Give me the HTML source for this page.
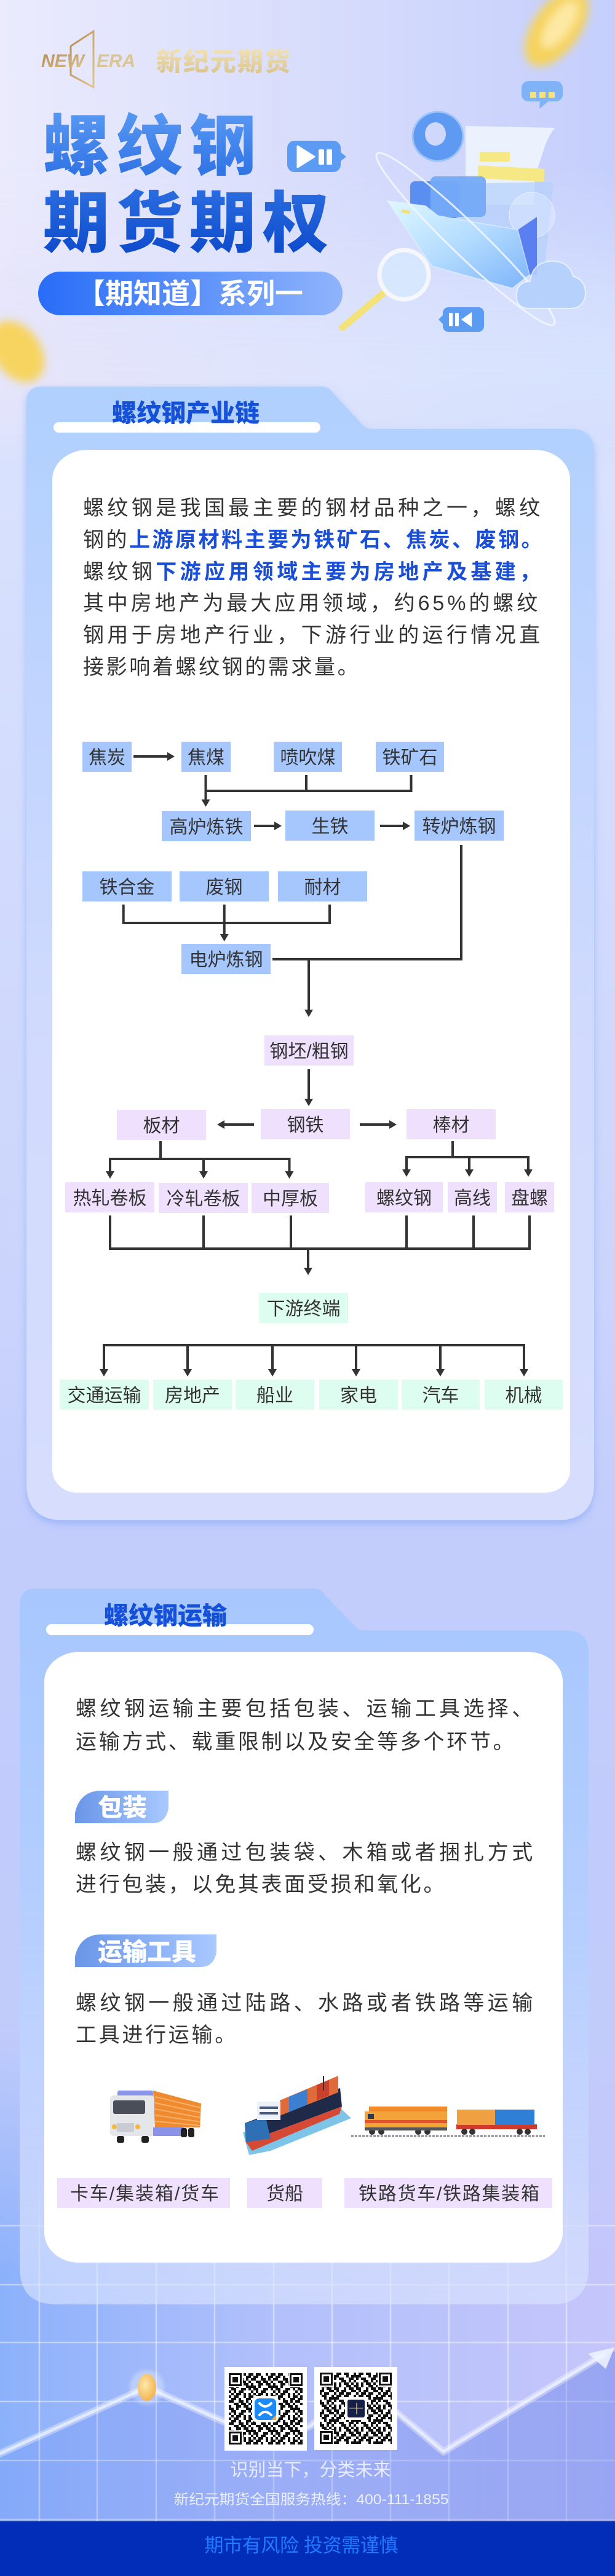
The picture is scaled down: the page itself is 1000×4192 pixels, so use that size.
<!DOCTYPE html>
<html lang="zh"><head><meta charset="utf-8"><title>螺纹钢期货期权</title>
<style>
*{margin:0;padding:0;box-sizing:border-box}
html,body{width:1000px;height:4192px;overflow:hidden}
body{position:relative;font-family:"Liberation Sans","Noto Sans CJK SC",sans-serif;
background:linear-gradient(180deg,#e0e4fc 0px,#d9e2fd 700px,#d3dcfd 1300px,#ccd6fc 2000px,#c3cdfc 2500px,#c2ccfb 3400px);}
.hbg{position:absolute;left:0;top:0;width:1000px;height:760px;background:linear-gradient(90deg,#ebebfd 0%,#d8ddfc 50%,#c5cffc 100%);
-webkit-mask-image:linear-gradient(180deg,#000 0%,#000 50%,transparent 100%);mask-image:linear-gradient(180deg,#000 0%,#000 50%,transparent 100%)}
.hbg2{position:absolute;left:0;top:0;width:1000px;height:760px;background:linear-gradient(90deg,#e6e4fa,#d6e3fe);
-webkit-mask-image:linear-gradient(180deg,transparent 35%,#000 80%,transparent 100%);mask-image:linear-gradient(180deg,transparent 35%,#000 80%,transparent 100%)}
svg.main{position:absolute;left:0;top:0}
.t{position:absolute;white-space:nowrap}
.p{position:absolute;font-family:"Liberation Sans","Noto Sans CJK SC",sans-serif;font-size:34px;line-height:51.8px;color:#333}
.p div{white-space:nowrap}
.p b{color:#1a4ed6;font-weight:700}
.sec{font-family:"Liberation Sans","Noto Sans CJK SC",sans-serif;font-weight:900;font-size:40px;line-height:40px;color:#1450d8}
.big{left:70px;top:177px;font-family:"Liberation Sans","Noto Sans CJK SC",sans-serif;font-weight:900;font-size:108px;line-height:124.5px;letter-spacing:11px;background:linear-gradient(180deg,#5a9af4 0%,#3376e6 40%,#0a47c9 100%);-webkit-background-clip:text;background-clip:text;color:transparent}
</style></head>
<body>
<div class="hbg"></div>
<div class="hbg2"></div>

<svg class="main" width="1000" height="4192" viewBox="0 0 1000 4192" xmlns="http://www.w3.org/2000/svg">
<defs>
<linearGradient id="g1" gradientUnits="userSpaceOnUse" x1="0" y1="629" x2="0" y2="2474">
<stop offset="0" stop-color="#b0d0fe"/><stop offset="0.3" stop-color="#c2d5fe"/><stop offset="0.6" stop-color="#d2dbfd"/><stop offset="1" stop-color="#d6ddfd"/></linearGradient>
<linearGradient id="g2" gradientUnits="userSpaceOnUse" x1="0" y1="2585" x2="0" y2="3750">
<stop offset="0" stop-color="#a7c7fe"/><stop offset="0.45" stop-color="#b4cefe"/><stop offset="0.8" stop-color="#c8d6fd" stop-opacity="0.85"/><stop offset="1" stop-color="#dde6fe" stop-opacity="0.6"/></linearGradient>
<linearGradient id="gTag" x1="0" y1="0" x2="1" y2="0"><stop offset="0" stop-color="#6a96e8"/><stop offset="1" stop-color="#a9c9ff"/></linearGradient>
<linearGradient id="gPill" x1="0" y1="0" x2="1" y2="0"><stop offset="0" stop-color="#286df8"/><stop offset="1" stop-color="#8fb4fb"/></linearGradient>
<linearGradient id="gBot" x1="0" y1="0" x2="1" y2="0"><stop offset="0" stop-color="#8cb1fb"/><stop offset="0.45" stop-color="#b2c0fb"/><stop offset="1" stop-color="#c5c6fb"/></linearGradient>
<linearGradient id="gFade" gradientUnits="userSpaceOnUse" x1="0" y1="3300" x2="0" y2="3700"><stop offset="0" stop-color="#c2ccfb" stop-opacity="1"/><stop offset="1" stop-color="#c2ccfb" stop-opacity="0"/></linearGradient>
<linearGradient id="gGrid" gradientUnits="userSpaceOnUse" x1="0" y1="3480" x2="0" y2="3650"><stop offset="0" stop-color="#fff" stop-opacity="0"/><stop offset="1" stop-color="#fff" stop-opacity="0.45"/></linearGradient>
<linearGradient id="gChart" x1="0" y1="0" x2="1" y2="0"><stop offset="0" stop-color="#3c64e6" stop-opacity="0.1"/><stop offset="1" stop-color="#3258dc" stop-opacity="0.3"/></linearGradient>
<linearGradient id="gGold" x1="0" y1="0" x2="1" y2="1"><stop offset="0" stop-color="#b48a52"/><stop offset="1" stop-color="#e0c68e"/></linearGradient>
<linearGradient id="gGold2" x1="0" y1="0" x2="0" y2="1"><stop offset="0" stop-color="#f2e4b8"/><stop offset="1" stop-color="#d8c28a"/></linearGradient>
<linearGradient id="gFold" x1="0" y1="0" x2="1" y2="1"><stop offset="0" stop-color="#def8ff"/><stop offset="0.5" stop-color="#b4dcff"/><stop offset="1" stop-color="#7cb3fa"/></linearGradient>
<radialGradient id="gDot" cx="0.4" cy="0.4" r="0.7"><stop offset="0" stop-color="#fde9a8"/><stop offset="1" stop-color="#f3ac48"/></radialGradient>
<filter id="blur8" x="-60%" y="-60%" width="220%" height="220%"><feGaussianBlur stdDeviation="7"/></filter>
<filter id="blur3" x="-60%" y="-60%" width="220%" height="220%"><feGaussianBlur stdDeviation="3"/></filter>
<filter id="sh" x="-5%" y="-5%" width="110%" height="110%"><feDropShadow dx="0" dy="6" stdDeviation="6" flood-color="#7aa4f4" flood-opacity="0.55"/></filter>
<path id="qt" d="M0 0h4v4H0z M8 0h8v4H8z M24 0h4v4h-4z M32 0h4v4h-4z M4 4h8v4H4z M16 4h4v4h-4z M28 4h8v4h-8z M0 8h8v4H0z M16 8h8v4h-8z M28 8h4v4h-4z M8 12h8v4H8z M20 12h8v4h-8z M32 12h4v4h-4z M0 16h4v4H0z M12 16h8v4h-8z M24 16h8v4h-8z M0 20h8v4H0z M12 20h4v4h-4z M28 20h8v4h-8z M4 24h8v4H4z M20 24h8v4h-8z M32 24h4v4h-4z M0 28h4v4H0z M8 28h4v4H8z M16 28h8v4h-8z M4 32h4v4H4z M12 32h8v4h-8z M24 32h4v4h-4z M32 32h4v4h-4z" fill="#111"/>
<pattern id="qp1" patternUnits="userSpaceOnUse" width="36" height="36" x="372" y="3862"><use href="#qt"/></pattern>
<pattern id="qp2" patternUnits="userSpaceOnUse" width="36" height="36" x="507" y="3845"><use href="#qt" transform="translate(36,0) scale(-1,1)"/></pattern>
</defs>

<!-- bottom background -->
<rect x="0" y="3300" width="1000" height="803" fill="url(#gBot)"/>
<rect x="0" y="3300" width="1000" height="400" fill="url(#gFade)"/>
<g stroke="url(#gGrid)" stroke-width="2.5">
<line x1="64" y1="3480" x2="64" y2="4103"/><line x1="158" y1="3480" x2="158" y2="4103"/><line x1="254" y1="3480" x2="254" y2="4103"/><line x1="349" y1="3480" x2="349" y2="4103"/><line x1="445" y1="3480" x2="445" y2="4103"/><line x1="540" y1="3480" x2="540" y2="4103"/><line x1="635" y1="3480" x2="635" y2="4103"/><line x1="730" y1="3480" x2="730" y2="4103"/><line x1="826" y1="3480" x2="826" y2="4103"/><line x1="921" y1="3480" x2="921" y2="4103"/>
</g>
<g stroke="#fff" stroke-opacity="0.42" stroke-width="2.5">
<line x1="0" y1="3622" x2="1000" y2="3622"/><line x1="0" y1="3718" x2="1000" y2="3718"/><line x1="0" y1="3812" x2="1000" y2="3812"/><line x1="0" y1="3908" x2="1000" y2="3908"/><line x1="0" y1="4004" x2="1000" y2="4004"/><line x1="0" y1="4100" x2="1000" y2="4100"/>
</g>
<polygon points="0,3993 239,3885 440,3975 505,3948 590,3880 721,3990 990,3830 1000,3826 1000,4103 0,4103" fill="url(#gChart)"/>
<polyline points="-5,3995 239,3885 440,3975 505,3948 590,3880 721,3990 985,3830" fill="none" stroke="#fff" stroke-opacity="0.35" stroke-width="12" stroke-linejoin="round"/>
<polyline points="-5,3995 239,3885 440,3975 505,3948 590,3880 721,3990 985,3830" fill="none" stroke="#eef3ff" stroke-opacity="0.75" stroke-width="5" stroke-linejoin="round"/>
<polygon points="999,3820 956,3830 985,3855" fill="#eef3ff" fill-opacity="0.85"/>
<circle cx="239" cy="3885" r="28" fill="#fff" fill-opacity="0.3" filter="url(#blur3)"/>
<ellipse cx="239" cy="3885" rx="15" ry="22" fill="url(#gDot)"/>

<!-- coins -->
<g filter="url(#blur8)">
<ellipse cx="905" cy="45" rx="38" ry="72" transform="rotate(35 905 45)" fill="#f6d35c"/>
<ellipse cx="910" cy="40" rx="18" ry="45" transform="rotate(35 910 40)" fill="#fde9a4"/>
<ellipse cx="28" cy="572" rx="38" ry="55" transform="rotate(-35 28 572)" fill="#f7d460"/>
</g>

<!-- logo -->
<polyline points="115,75 152,51 152,142 115,122 115,75" fill="none" stroke="url(#gGold)" stroke-width="3"/>
<text x="67" y="109" font-family="Liberation Sans, sans-serif" font-style="italic" font-weight="bold" font-size="30" fill="url(#gGold)" textLength="70">NEW</text>
<text x="157" y="109" font-family="Liberation Sans, sans-serif" font-style="italic" font-weight="bold" font-size="30" fill="#dcc594" textLength="63">ERA</text>
<text x="254" y="115" style="font-family:'Liberation Sans','Noto Sans CJK SC',sans-serif" font-weight="900" font-size="42" fill="url(#gGold2)" textLength="218">新纪元期货</text>

<!-- header illustration -->
<g>
<path d="M757,205 L902,208 Q892,222 887,235 L870,287 L868,333 L757,333 Z" fill="#eef3fd" fill-opacity="0.92"/>
<rect x="780" y="247" width="49" height="16" fill="#f6e985"/>
<rect x="777" y="272" width="108" height="21" fill="#f6e985" transform="rotate(3 831 282)"/>
<path fill-rule="evenodd" d="M670,222 a42,41 0 1,0 84,0 a42,41 0 1,0 -84,0 Z M691,218 a17,19 0 1,0 34,0 a17,19 0 1,0 -34,0 Z" fill="#5f9af2"/>
<ellipse cx="712" cy="222" rx="41" ry="40" fill="none" stroke="#9cc3fa" stroke-width="3"/>
<polygon points="700,300 900,296 885,440 700,420" fill="#b4d0fb" fill-opacity="0.7"/>
<rect x="667" y="295" width="80" height="60" rx="8" fill="#5a8ef0"/>
<rect x="700" y="287" width="90" height="66" rx="8" fill="#74aaf7" fill-opacity="0.95"/>
<circle cx="865" cy="350" r="37" fill="#fff" fill-opacity="0.25" stroke="#fff" stroke-opacity="0.5"/>
<polygon points="842,374 873,353 873,447 861,447" fill="#5a7ff0"/>
<polygon points="630,327 692,335 712,351 842,374 861,447 833,469 702,433" fill="url(#gFold)" stroke="#eaf7ff" stroke-opacity="0.6" stroke-width="1.5"/>
<rect x="653" y="342" width="14" height="5" fill="#f3e07a" transform="rotate(10 660 344)"/>
<ellipse cx="757" cy="389" rx="200" ry="26" transform="rotate(44 757 389)" fill="none" stroke="#f2f7ff" stroke-opacity="0.85" stroke-width="3"/>
<line x1="622" y1="478" x2="557" y2="533" stroke="#f2e278" stroke-width="11" stroke-linecap="round"/>
<circle cx="657" cy="447" r="40" fill="#d6ecff" fill-opacity="0.55" stroke="#f5f7fc" stroke-width="7"/>
<path d="M858,502 Q838,500 840,478 Q842,458 862,458 Q865,428 895,425 Q925,424 932,450 Q952,455 952,478 Q950,500 930,502 Z" fill="#b3cffb" fill-opacity="0.9" stroke="#fff" stroke-opacity="0.6" stroke-width="2"/>
<rect x="720" y="500" width="67" height="40" rx="9" fill="#5b9bf2"/>
<polygon points="720,513 713,520 720,527" fill="#5b9bf2"/>
<rect x="730" y="509" width="6" height="22" rx="1" fill="#fff"/>
<rect x="740" y="509" width="6" height="22" rx="1" fill="#fff"/>
<polygon points="750,520 767,508 767,532" fill="#fff"/>
<rect x="848" y="132" width="67" height="33" rx="11" fill="#80b2f8"/>
<polygon points="878,164 893,164 877,177" fill="#80b2f8"/>
<rect x="862" y="150" width="10" height="9" fill="#f5e27c"/><rect x="877" y="150" width="10" height="9" fill="#f5e27c"/><rect x="892" y="150" width="10" height="9" fill="#f5e27c"/>
<rect x="467" y="229" width="87" height="51" rx="12" fill="#5c9bf3"/>
<polygon points="553,247 563,255 553,263" fill="#5c9bf3"/>
<polygon points="484,238 484,272 511,255" fill="#fff" stroke="#fff" stroke-width="3" stroke-linejoin="round"/>
<rect x="518" y="243" width="9" height="25" rx="2" fill="#fff"/>
<rect x="531" y="243" width="9" height="25" rx="2" fill="#fff"/>
</g>

<!-- pill -->
<rect x="62" y="442" width="495" height="71" rx="35.5" fill="url(#gPill)"/>
<text x="309" y="494" text-anchor="middle" style="font-family:'Liberation Sans','Noto Sans CJK SC',sans-serif" font-weight="bold" font-size="46" fill="#fff">【期知道】系列一</text>

<!-- section 1 container -->
<path filter="url(#sh)" d="M43,654 Q43,629 68,629 L522,629 Q534,629 540,638 L588,690 Q594,698 606,698 L928,698 Q966,698 966,736 L966,2414 Q966,2474 906,2474 L103,2474 Q43,2474 43,2414 Z" fill="url(#g1)"/>
<rect x="87" y="687" width="434" height="17" rx="8.5" fill="#fff"/>
<path d="M85,780 A58,48 0 0 1 143,732 L869,732 A58,48 0 0 1 927,780 L927,2392 A40,37 0 0 1 887,2429 L125,2429 A40,37 0 0 1 85,2392 Z" fill="#fff"/>

<!-- section 2 container -->
<path d="M32,2612 Q32,2585 59,2585 L510,2585 Q522,2585 528,2595 L576,2645 Q582,2653 594,2653 L920,2653 Q957,2653 957,2690 L957,3690 Q957,3750 897,3750 L92,3750 Q32,3750 32,3690 Z" fill="url(#g2)"/>
<rect x="75" y="2643" width="435" height="18" rx="9" fill="#fff"/>
<path d="M72,2736 A58,48 0 0 1 130,2688 L857,2688 A58,48 0 0 1 915,2736 L915,3633 A56,49 0 0 1 859,3682 L128,3682 A56,49 0 0 1 72,3633 Z" fill="#fff"/>

<!-- tags -->
<path d="M122,2967 L122,2950 Q130,2914 165,2914 L274,2914 L274,2942 Q270,2967 248,2967 Z" fill="url(#gTag)"/>
<text x="159" y="2955" style="font-family:'Liberation Sans','Noto Sans CJK SC',sans-serif" font-weight="900" font-size="40" fill="#fff">包装</text>
<path d="M122,3201 L122,3184 Q130,3148 165,3148 L352,3148 L352,3176 Q348,3201 326,3201 Z" fill="url(#gTag)"/>
<text x="159" y="3190" style="font-family:'Liberation Sans','Noto Sans CJK SC',sans-serif" font-weight="900" font-size="40" fill="#fff">运输工具</text>

<!-- flowchart boxes -->
<g style="font-family:'Liberation Sans','Noto Sans CJK SC',sans-serif" font-size="30" text-anchor="middle">
<g fill="#a5c7fd">
<rect x="134" y="1207" width="80" height="49"/><rect x="295" y="1207" width="80" height="49"/><rect x="445" y="1207" width="111" height="49"/><rect x="611" y="1207" width="111" height="49"/>
<rect x="263" y="1320" width="145" height="49"/><rect x="464" y="1319" width="145" height="49"/><rect x="674" y="1319" width="145" height="49"/>
<rect x="134" y="1418" width="145" height="49"/><rect x="292" y="1418" width="145" height="49"/><rect x="452" y="1418" width="145" height="49"/>
<rect x="295" y="1536" width="145" height="49"/>
</g>
<g fill="#efe0fe">
<rect x="430" y="1685" width="145" height="49"/>
<rect x="424" y="1805" width="145" height="49"/><rect x="190" y="1806" width="145" height="49"/><rect x="661" y="1805" width="145" height="49"/>
<rect x="106" y="1924" width="145" height="49"/><rect x="258" y="1925" width="145" height="49"/><rect x="409" y="1925" width="126" height="49"/>
<rect x="594" y="1924" width="126" height="49"/><rect x="728" y="1924" width="80" height="49"/><rect x="821" y="1924" width="80" height="49"/>
<rect x="93" y="3544" width="281" height="49"/><rect x="402" y="3544" width="122" height="49"/><rect x="560" y="3544" width="338" height="49"/>
</g>
<g fill="#dcfdf0">
<rect x="421" y="2104" width="145" height="49"/>
<rect x="97" y="2245" width="145" height="49"/><rect x="249" y="2245" width="128" height="49"/><rect x="383" y="2245" width="128" height="49"/><rect x="519" y="2245" width="128" height="49"/><rect x="653" y="2245" width="127" height="49"/><rect x="788" y="2245" width="127" height="49"/>
</g>
<g fill="#333">
<text x="174" y="1243">焦炭</text><text x="335" y="1243">焦煤</text><text x="500.5" y="1243">喷吹煤</text><text x="666.5" y="1243">铁矿石</text>
<text x="335.5" y="1356">高炉炼铁</text><text x="536.5" y="1355">生铁</text><text x="746.5" y="1355">转炉炼钢</text>
<text x="206.5" y="1454">铁合金</text><text x="364.5" y="1454">废钢</text><text x="524.5" y="1454">耐材</text>
<text x="367.5" y="1572">电炉炼钢</text>
<text x="502.5" y="1721">钢坯/粗钢</text>
<text x="496.5" y="1841">钢铁</text><text x="262.5" y="1842">板材</text><text x="733.5" y="1841">棒材</text>
<text x="178.5" y="1960">热轧卷板</text><text x="330.5" y="1961">冷轧卷板</text><text x="472" y="1961">中厚板</text>
<text x="657" y="1960">螺纹钢</text><text x="768" y="1960">高线</text><text x="861" y="1960">盘螺</text>
<text x="493.5" y="2140">下游终端</text>
<text x="169.5" y="2281">交通运输</text><text x="313" y="2281">房地产</text><text x="447" y="2281">船业</text><text x="583" y="2281">家电</text><text x="716.5" y="2281">汽车</text><text x="851.5" y="2281">机械</text>
<text x="235" y="3580" textLength="242" lengthAdjust="spacing">卡车/集装箱/货车</text>
<text x="463" y="3580">货船</text>
<text x="730" y="3580" textLength="294" lengthAdjust="spacing">铁路货车/铁路集装箱</text>
</g>
</g>

<!-- flowchart lines -->
<g stroke="#333" stroke-width="4" fill="none" stroke-linecap="square">
<path d="M219,1231 H273"/>
<path d="M334.5,1263 V1302 M334.5,1287 H668.5 M498,1263 V1287 M668.5,1263 V1287"/>
<path d="M415,1344 H447 M620,1344 H656"/>
<path d="M750,1377 V1561 H445"/>
<path d="M200.7,1474 V1502 H536 V1474 M364.7,1474 V1521"/>
<path d="M502,1561 V1644"/>
<path d="M502,1742 V1789"/>
<path d="M411,1830 H364 M587,1830 H634"/>
<path d="M261,1859 V1886 M179,1907 V1886 H470.5 V1907 M331,1886 V1907"/>
<path d="M736,1859 V1883 M661,1904 V1883 H859 V1904 M763,1883 V1904"/>
<path d="M179,1980 V2032 H861 V1980 M331,1980 V2032 M473,1980 V2032 M661,1980 V2032 M770,1980 V2032 M501,2032 V2064"/>
<path d="M169,2229 V2189 H852 V2229 M305,2189 V2229 M443,2189 V2229 M579,2189 V2229 M716,2189 V2229"/>
</g>
<g fill="#333">
<polygon points="272,1224 272,1238 284,1231"/>
<polygon points="327.5,1301 341.5,1301 334.5,1313"/>
<polygon points="446,1337 446,1351 458,1344"/>
<polygon points="655,1337 655,1351 667,1344"/>
<polygon points="357.7,1520 371.7,1520 364.7,1532"/>
<polygon points="495,1643 509,1643 502,1655"/>
<polygon points="495,1788 509,1788 502,1800"/>
<polygon points="365,1823 365,1837 353,1830"/>
<polygon points="633,1823 633,1837 645,1830"/>
<polygon points="172,1906 186,1906 179,1918"/><polygon points="324,1906 338,1906 331,1918"/><polygon points="463.5,1906 477.5,1906 470.5,1918"/>
<polygon points="654,1903 668,1903 661,1915"/><polygon points="756,1903 770,1903 763,1915"/><polygon points="852,1903 866,1903 859,1915"/>
<polygon points="494,2063 508,2063 501,2075"/>
<polygon points="162,2228 176,2228 169,2240"/><polygon points="298,2228 312,2228 305,2240"/><polygon points="436,2228 450,2228 443,2240"/><polygon points="572,2228 586,2228 579,2240"/><polygon points="709,2228 723,2228 716,2240"/><polygon points="845,2228 859,2228 852,2240"/>
</g>

<!-- truck -->
<g>
<polygon points="249,3402 327,3423 325,3462 252,3463" fill="#f08a2e"/>
<g stroke="#f6b06a" stroke-width="2"><line x1="252" y1="3412" x2="326" y2="3430"/><line x1="252" y1="3422" x2="326" y2="3438"/><line x1="252" y1="3432" x2="326" y2="3446"/><line x1="252" y1="3442" x2="326" y2="3453"/><line x1="252" y1="3452" x2="326" y2="3459"/></g>
<rect x="191" y="3402" width="58" height="10" rx="3" fill="#8a95e8"/>
<rect x="179" y="3410" width="72" height="66" rx="6" fill="#e4e6ea"/>
<rect x="184" y="3418" width="52" height="22" rx="3" fill="#4a4e58"/>
<circle cx="186" cy="3461" r="4" fill="#f5b63a"/><circle cx="224" cy="3461" r="4" fill="#f5b63a"/>
<rect x="190" y="3455" width="28" height="14" fill="#c9ccd2"/>
<rect x="249" y="3462" width="50" height="14" fill="#8a93e8"/>
<rect x="190" y="3476" width="12" height="11" rx="3" fill="#222"/><rect x="230" y="3476" width="12" height="11" rx="3" fill="#222"/>
<rect x="294" y="3463" width="10" height="15" rx="3" fill="#222"/><rect x="306" y="3463" width="10" height="15" rx="3" fill="#222"/>
</g>
<!-- ship -->
<g>
<polygon points="395,3470 405,3507 440,3500 571,3447 555,3432" fill="#7ec4e8"/>
<polygon points="398,3455 553,3398 556,3428 400,3486" fill="#1e2a48"/>
<polygon points="400,3486 556,3428 552,3440 410,3500" fill="#d64a35"/>
<polygon points="398,3455 432,3445 440,3480 400,3486" fill="#2f6fb4"/>
<polygon points="455,3443 550,3405 550,3378 455,3418" fill="#e06a3a"/>
<polygon points="470,3437 500,3425 500,3400 470,3412" fill="#3b7fd0"/>
<polygon points="515,3418 535,3410 535,3385 515,3393" fill="#c9402c"/>
<rect x="418" y="3420" width="38" height="30" fill="#eef2f8"/>
<rect x="422" y="3428" width="30" height="4" fill="#4a5a80"/><rect x="422" y="3437" width="30" height="4" fill="#4a5a80"/>
<line x1="526" y1="3402" x2="526" y2="3378" stroke="#333" stroke-width="2"/>
</g>
<!-- train -->
<g>
<line x1="571" y1="3476" x2="886" y2="3476" stroke="#8a8a90" stroke-width="3" stroke-dasharray="4 2"/>
<rect x="600" y="3428" width="127" height="8" fill="#f08a2a"/>
<rect x="593" y="3436" width="134" height="26" fill="#f4a23a"/>
<rect x="593" y="3450" width="134" height="5" fill="#e0552a"/>
<rect x="598" y="3440" width="10" height="8" fill="#2a3a58"/>
<rect x="742" y="3457" width="131" height="8" fill="#d03a2a"/>
<rect x="743" y="3433" width="62" height="25" fill="#f0a040"/>
<rect x="805" y="3433" width="64" height="25" fill="#2f7fd6"/>
<g fill="#333"><circle cx="605" cy="3469" r="5"/><circle cx="620" cy="3469" r="5"/><circle cx="680" cy="3469" r="5"/><circle cx="695" cy="3469" r="5"/><circle cx="755" cy="3469" r="5"/><circle cx="768" cy="3469" r="5"/><circle cx="845" cy="3469" r="5"/><circle cx="858" cy="3469" r="5"/></g>
<rect x="593" y="3462" width="134" height="5" fill="#555"/>
</g>

<!-- QR codes -->
<rect x="365" y="3852" width="134" height="136" fill="#fff"/>
<rect x="372" y="3862" width="120" height="116" fill="url(#qp1)"/>
<g>
<rect x="370" y="3860" width="25" height="25" fill="#fff"/><rect x="372" y="3862" width="21" height="21" fill="#111"/><rect x="375" y="3865" width="15" height="15" fill="#fff"/><rect x="378" y="3868" width="9" height="9" fill="#111"/>
<rect x="469" y="3860" width="25" height="25" fill="#fff"/><rect x="471" y="3862" width="21" height="21" fill="#111"/><rect x="474" y="3865" width="15" height="15" fill="#fff"/><rect x="477" y="3868" width="9" height="9" fill="#111"/>
<rect x="370" y="3955" width="25" height="25" fill="#fff"/><rect x="372" y="3957" width="21" height="21" fill="#111"/><rect x="375" y="3960" width="15" height="15" fill="#fff"/><rect x="378" y="3963" width="9" height="9" fill="#111"/>
<rect x="410" y="3899" width="43" height="43" rx="8" fill="#fff"/>
<rect x="414" y="3903" width="35" height="35" rx="7" fill="#1d8bf7"/>
<path d="M422,3911 Q431,3921 441,3911 M422,3930 Q431,3920 441,3930" stroke="#fff" stroke-width="4" fill="none" stroke-linecap="round"/>
<polygon points="441,3938 449,3930 449,3938" fill="#f4a93a"/>
</g>
<rect x="511" y="3852" width="135" height="135" fill="#fff"/>
<rect x="520" y="3861" width="117" height="116" fill="url(#qp2)"/>
<g>
<rect x="518" y="3859" width="25" height="25" fill="#fff"/><rect x="520" y="3861" width="21" height="21" fill="#111"/><rect x="523" y="3864" width="15" height="15" fill="#fff"/><rect x="526" y="3867" width="9" height="9" fill="#111"/>
<rect x="614" y="3859" width="25" height="25" fill="#fff"/><rect x="616" y="3861" width="21" height="21" fill="#111"/><rect x="619" y="3864" width="15" height="15" fill="#fff"/><rect x="622" y="3867" width="9" height="9" fill="#111"/>
<rect x="518" y="3954" width="25" height="25" fill="#fff"/><rect x="520" y="3956" width="21" height="21" fill="#111"/><rect x="523" y="3959" width="15" height="15" fill="#fff"/><rect x="526" y="3962" width="9" height="9" fill="#111"/>
<rect x="561" y="3901" width="36" height="37" fill="#fff"/>
<rect x="565" y="3905" width="28" height="29" rx="3" fill="#14204a"/>
<line x1="580" y1="3910" x2="580" y2="3929" stroke="#d4b470" stroke-width="1.5"/>
<line x1="568" y1="3919" x2="590" y2="3919" stroke="#d4b470" stroke-width="1"/>
</g>

<!-- bottom texts -->
<text x="505" y="4029" text-anchor="middle" style="font-family:'Liberation Sans','Noto Sans CJK SC',sans-serif" font-size="29" fill="#f0f3ff" fill-opacity="0.9" textLength="261" lengthAdjust="spacing">识别当下，分类未来</text>
<text x="506" y="4075" text-anchor="middle" style="font-family:'Liberation Sans','Noto Sans CJK SC',sans-serif" font-size="23" fill="#f3f5ff" fill-opacity="0.92" textLength="447" lengthAdjust="spacingAndGlyphs">新纪元期货全国服务热线：400-111-1855</text>
<rect x="0" y="4103" width="1000" height="89" fill="#022db9"/>
<text x="490" y="4153" text-anchor="middle" style="font-family:'Liberation Sans','Noto Sans CJK SC',sans-serif" font-size="31" fill="#1f7bff" textLength="315" lengthAdjust="spacing">期市有风险 投资需谨慎</text>
</svg>

<div class="t big">螺纹钢<br>期货期权</div>

<div class="t sec" style="left:182px;top:653px">螺纹钢产业链</div>
<div class="t sec" style="left:169px;top:2610px">螺纹钢运输</div>

<div class="p" style="left:135px;top:802px">
<div style="letter-spacing:5.4px">螺纹钢是我国最主要的钢材品种之一，螺纹</div>
<div style="letter-spacing:3.5px">钢的<b>上游原材料主要为铁矿石、焦炭、废钢。</b></div>
<div style="letter-spacing:5.4px">螺纹钢<b>下游应用领域主要为房地产及基建，</b></div>
<div style="letter-spacing:4.9px">其中房地产为最大应用领域，约65%的螺纹</div>
<div style="letter-spacing:5.4px">钢用于房地产行业，下游行业的运行情况直</div>
<div style="letter-spacing:3.6px">接影响着螺纹钢的需求量。</div>
</div>

<div class="p" style="left:123px;top:2755px;line-height:53.5px">
<div style="letter-spacing:5.4px">螺纹钢运输主要包括包装、运输工具选择、</div>
<div style="letter-spacing:3.7px">运输方式、载重限制以及安全等多个环节。</div>
</div>
<div class="p" style="left:123px;top:2990px">
<div style="letter-spacing:5.4px">螺纹钢一般通过包装袋、木箱或者捆扎方式</div>
<div style="letter-spacing:3.7px">进行包装，以免其表面受损和氧化。</div>
</div>
<div class="p" style="left:123px;top:3235px">
<div style="letter-spacing:5.4px">螺纹钢一般通过陆路、水路或者铁路等运输</div>
<div style="letter-spacing:3.7px">工具进行运输。</div>
</div>
</body></html>
